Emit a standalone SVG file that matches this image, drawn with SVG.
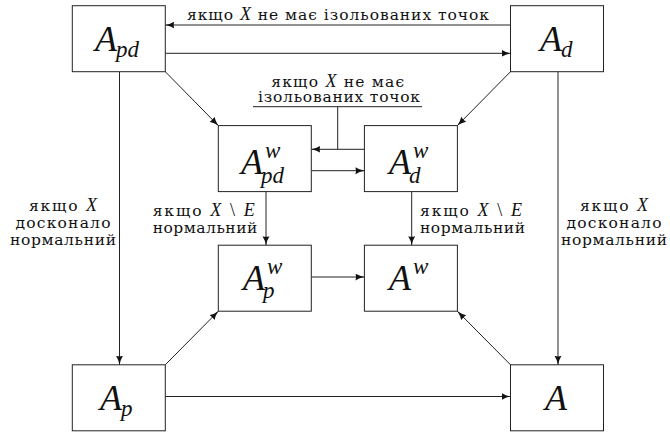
<svg xmlns="http://www.w3.org/2000/svg" width="670" height="436" viewBox="0 0 670 436">
<style>
.box{fill:#fff;stroke:#222;stroke-width:1}
.ln{fill:none;stroke:#222;stroke-width:1}
.m{font-family:"Liberation Serif","Times New Roman",serif;font-style:italic;fill:#111}
.big{font-size:36px}
.sm{font-size:23px}
.t{font-family:"DejaVu Serif","Liberation Serif",serif;font-size:15.5px;fill:#111}
.mx{font-family:"Liberation Serif",serif;font-style:italic;font-size:18px}
.up{font-family:"Liberation Serif",serif;font-size:18px}
</style>
<defs>
<marker id="ah" markerUnits="userSpaceOnUse" markerWidth="10" markerHeight="8" refX="9" refY="3.5" orient="auto">
<path d="M0,0 Q4,2.6 9,3.5 Q4,4.4 0,7 Q1.2,3.5 0,0 z" fill="#111"/>
</marker>
</defs>
<rect width="670" height="436" fill="#fff"/>
<g id="connectors">
<line class="ln" x1="510.5" y1="25" x2="165.3" y2="25" marker-end="url(#ah)"/>
<line class="ln" x1="165.3" y1="53.3" x2="510.5" y2="53.3" marker-end="url(#ah)"/>
<line class="ln" x1="165.3" y1="71.7" x2="218.3" y2="125.6" marker-end="url(#ah)"/>
<line class="ln" x1="510.5" y1="71.7" x2="457.4" y2="125.6" marker-end="url(#ah)"/>
<line class="ln" x1="364.4" y1="149.3" x2="311.3" y2="149.3" marker-end="url(#ah)"/>
<line class="ln" x1="311.3" y1="170.7" x2="364.4" y2="170.7" marker-end="url(#ah)"/>
<line class="ln" x1="253" y1="106.7" x2="422" y2="106.7"/>
<line class="ln" x1="337.7" y1="106.7" x2="337.7" y2="149.3"/>
<line class="ln" x1="119.5" y1="71.7" x2="119.5" y2="364.8" marker-end="url(#ah)"/>
<line class="ln" x1="558" y1="71.7" x2="558" y2="364.8" marker-end="url(#ah)"/>
<line class="ln" x1="266" y1="191.6" x2="266" y2="245.2" marker-end="url(#ah)"/>
<line class="ln" x1="411.7" y1="191.6" x2="411.7" y2="245.2" marker-end="url(#ah)"/>
<line class="ln" x1="311.3" y1="277" x2="364.4" y2="277" marker-end="url(#ah)"/>
<line class="ln" x1="165.3" y1="364.8" x2="218.3" y2="311.2" marker-end="url(#ah)"/>
<line class="ln" x1="510.5" y1="364.8" x2="457.4" y2="311.2" marker-end="url(#ah)"/>
<line class="ln" x1="165.3" y1="396.5" x2="510.5" y2="396.5" marker-end="url(#ah)"/>
</g>
<g id="labels">
<text class="t" x="338" y="19.5" text-anchor="middle" textLength="302">якщо <tspan class="mx">X</tspan> не має ізольованих точок</text>
<text class="t" x="337.7" y="86.7" text-anchor="middle" textLength="133">якщо <tspan class="mx">X</tspan> не має</text>
<text class="t" x="339" y="101.7" text-anchor="middle" textLength="162">ізольованих точок</text>
<text class="t" x="63" y="211" text-anchor="middle" textLength="68">якщо <tspan class="mx">X</tspan></text>
<text class="t" x="63" y="228" text-anchor="middle" textLength="95">досконало</text>
<text class="t" x="63" y="245" text-anchor="middle" textLength="106">нормальний</text>
<text class="t" x="614" y="211" text-anchor="middle" textLength="68">якщо <tspan class="mx">X</tspan></text>
<text class="t" x="614" y="228" text-anchor="middle" textLength="95">досконало</text>
<text class="t" x="614" y="245" text-anchor="middle" textLength="106">нормальний</text>
<text class="t" x="152.7" y="216" textLength="102">якщо <tspan class="mx">X</tspan> <tspan class="up">\</tspan> <tspan class="mx">E</tspan></text>
<text class="t" x="152.7" y="233" textLength="104.6">нормальний</text>
<text class="t" x="420" y="216" textLength="102">якщо <tspan class="mx">X</tspan> <tspan class="up">\</tspan> <tspan class="mx">E</tspan></text>
<text class="t" x="420" y="233" textLength="105">нормальний</text>
</g>
<g id="Apd">
<rect class="box" x="72.3" y="5.7" width="93" height="66"/>
<text class="m big" x="95" y="50.5">A</text><text class="m sm" x="116" y="56.5">pd</text>
</g>
<g id="Ad">
<rect class="box" x="510.5" y="5.7" width="93" height="66"/>
<text class="m big" x="540" y="50.5">A</text><text class="m sm" x="561" y="56.5">d</text>
</g>
<g id="Apdw">
<rect class="box" x="218.3" y="125.6" width="93" height="66"/>
<text class="m big" x="241" y="174">A</text><text class="m sm" x="265" y="158">w</text><text class="m sm" x="261" y="183">pd</text>
</g>
<g id="Adw">
<rect class="box" x="364.4" y="125.6" width="93" height="66"/>
<text class="m big" x="389" y="174">A</text><text class="m sm" x="413" y="158">w</text><text class="m sm" x="409" y="183">d</text>
</g>
<g id="Apw">
<rect class="box" x="218.3" y="245.2" width="93" height="66"/>
<text class="m big" x="243" y="290">A</text><text class="m sm" x="267" y="274">w</text><text class="m sm" x="263" y="298">p</text>
</g>
<g id="Aw">
<rect class="box" x="364.4" y="245.2" width="93" height="66"/>
<text class="m big" x="389" y="290">A</text><text class="m sm" x="413" y="274">w</text>
</g>
<g id="Ap">
<rect class="box" x="72.3" y="364.8" width="93" height="66"/>
<text class="m big" x="100" y="410">A</text><text class="m sm" x="121" y="416">p</text>
</g>
<g id="A">
<rect class="box" x="510.5" y="364.8" width="93" height="66"/>
<text class="m big" x="545" y="410">A</text>
</g>
</svg>
